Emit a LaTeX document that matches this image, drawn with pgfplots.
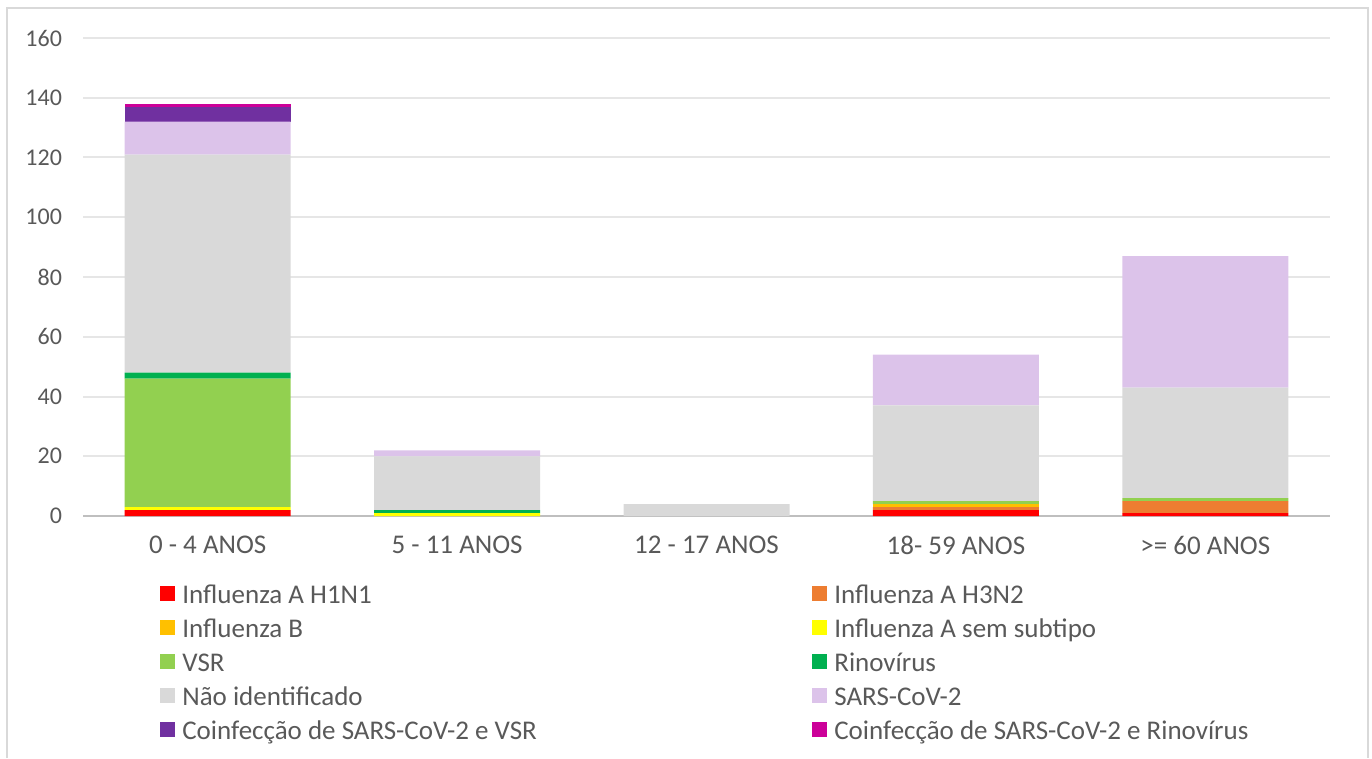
\documentclass[border=0pt]{standalone}
\usepackage{fontspec}
\setmainfont{Carlito}
\usepackage{pgfplots}
\pgfplotsset{compat=1.18}

\definecolor{txtgray}{HTML}{595959}
\definecolor{gridgray}{HTML}{E6E6E6}
\definecolor{axisgray}{HTML}{BFBFBF}
\definecolor{framegray}{HTML}{D9D9D9}
\definecolor{cH1N1}{HTML}{FF0000}
\definecolor{cH3N2}{HTML}{ED7D31}
\definecolor{cFluB}{HTML}{FFC000}
\definecolor{cSemSub}{HTML}{FFFF00}
\definecolor{cVSR}{HTML}{92D050}
\definecolor{cRino}{HTML}{00B050}
\definecolor{cNaoId}{HTML}{D9D9D9}
\definecolor{cSars}{HTML}{DCC3EA}
\definecolor{cCoVSR}{HTML}{7030A0}
\definecolor{cCoRino}{HTML}{CC0099}

\pgfplotsset{sqleg/.style={legend image code/.code={\fill[##1] (0bp,-1.5bp) rectangle (7.5bp,6bp);}}}
\newcommand{\lc}[1]{\makebox[315bp][l]{#1}}

\begin{document}
\begin{tikzpicture}[x=1bp,y=1bp,font=\fontsize{12bp}{14bp}\selectfont]
\useasboundingbox (0,0) rectangle (686,379);
\draw[framegray, line width=1bp] (3.5,0) -- (3.5,375) -- (684,375) -- (684,0);
\begin{axis}[
  at={(41.5bp,121bp)}, anchor=south west,
  scale only axis, width=623.5bp, height=239bp,
  ybar stacked, bar width=83bp,
  xmin=-0.5, xmax=4.5, ymin=0, ymax=160,
  ytick={0,20,...,160},
  xtick={0,1,2,3,4},
  xticklabels={0 - 4 ANOS, 5 - 11 ANOS, 12 - 17 ANOS, 18- 59 ANOS, >= 60 ANOS},
  /pgf/number format/assume math mode=true,
  major tick length=0pt,
  axis line style={draw=none},
  ymajorgrids, grid style={gridgray, line width=1bp},
  tick label style={text=txtgray},
  yticklabel style={xshift=-7bp},
  xticklabel style={yshift=-6.5bp, font=\fontsize{13.5bp}{15bp}\selectfont},
  legend columns=2,
  legend style={at={(0.0617,-0.142)}, anchor=north west, draw=none, fill=none,
    inner sep=0pt, row sep=3.5bp, text=txtgray,
    font=\fontsize{13.5bp}{15bp}\selectfont,
    nodes={inner sep=0pt, text height=9.5bp, text depth=4bp, anchor=west},
    /tikz/every odd column/.append style={column sep=3.5bp}},
  legend cell align=left,
]
\addplot[fill=cH1N1, draw=none, sqleg] coordinates {(0,2) (1,0) (2,0) (3,2) (4,1)};
\addlegendentry{\lc{Influenza A H1N1}}
\addplot[fill=cH3N2, draw=none, sqleg] coordinates {(0,0) (1,0) (2,0) (3,1) (4,4)};
\addlegendentry{Influenza A H3N2}
\addplot[fill=cFluB, draw=none, sqleg] coordinates {(0,0) (1,0) (2,0) (3,1) (4,0)};
\addlegendentry{\lc{Influenza B}}
\addplot[fill=cSemSub, draw=none, sqleg] coordinates {(0,1) (1,1) (2,0) (3,0) (4,0)};
\addlegendentry{Influenza A sem subtipo}
\addplot[fill=cVSR, draw=none, sqleg] coordinates {(0,43) (1,0) (2,0) (3,1) (4,1)};
\addlegendentry{\lc{VSR}}
\addplot[fill=cRino, draw=none, sqleg] coordinates {(0,2) (1,1) (2,0) (3,0) (4,0)};
\addlegendentry{Rinovírus}
\addplot[fill=cNaoId, draw=none, sqleg] coordinates {(0,73) (1,18) (2,4) (3,32) (4,37)};
\addlegendentry{\lc{Não identificado}}
\addplot[fill=cSars, draw=none, sqleg] coordinates {(0,11) (1,2) (2,0) (3,17) (4,44)};
\addlegendentry{SARS-CoV-2}
\addplot[fill=cCoVSR, draw=none, sqleg] coordinates {(0,5) (1,0) (2,0) (3,0) (4,0)};
\addlegendentry{\lc{Coinfecção de SARS-CoV-2 e VSR}}
\addplot[fill=cCoRino, draw=none, sqleg] coordinates {(0,1) (1,0) (2,0) (3,0) (4,0)};
\addlegendentry{Coinfecção de SARS-CoV-2 e Rinovírus}
\draw[axisgray, line width=1bp] (axis cs:-0.5,0) -- (axis cs:4.5,0);
\end{axis}
\end{tikzpicture}
\end{document}
